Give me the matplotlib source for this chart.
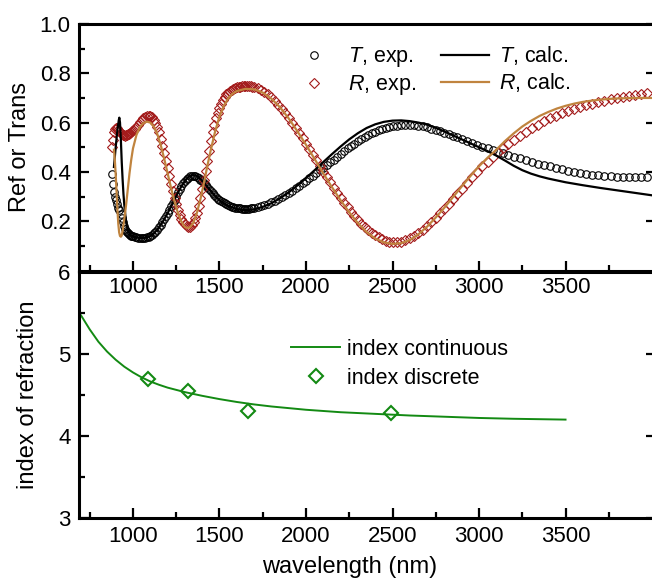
import matplotlib
matplotlib.use("Agg")
import matplotlib.pyplot as plt
from matplotlib.ticker import FixedLocator

plt.rcParams["font.family"] = ["Liberation Sans", "DejaVu Sans"]
plt.rcParams["mathtext.fontset"] = "custom"
plt.rcParams["mathtext.rm"] = "Liberation Sans"
plt.rcParams["mathtext.it"] = "Liberation Sans:italic"

# ---- measured spectra (wavelength in nm) ----
wl_exp = [880, 886, 892, 898, 904, 910, 916, 922, 928, 934, 940, 946, 952, 958, 964,
          970, 976, 982, 988, 994,
          1000, 1010, 1020, 1030, 1040, 1050, 1060, 1070, 1080, 1090,
          1100, 1110, 1120, 1130, 1140, 1150, 1160, 1170, 1180, 1190,
          1200, 1210, 1220, 1230, 1240, 1250, 1260, 1270, 1280, 1290,
          1300, 1310, 1320, 1330, 1340, 1350, 1360, 1370, 1380, 1390,
          1400, 1410, 1420, 1430, 1440, 1450, 1460, 1470, 1480, 1490,
          1500, 1510, 1520, 1530, 1540, 1550, 1560, 1570, 1580, 1590,
          1600, 1610, 1620, 1630, 1640, 1650, 1660, 1670, 1680, 1690, 1700,
          1720, 1740, 1760, 1780, 1800, 1820, 1840, 1860, 1880, 1900,
          1920, 1940, 1960, 1980, 2000, 2020, 2040, 2060, 2080, 2100,
          2120, 2140, 2160, 2180, 2200, 2220, 2240, 2260, 2280, 2300,
          2320, 2340, 2360, 2380, 2400, 2420, 2440, 2460, 2480, 2500,
          2525, 2550, 2575, 2600, 2625, 2650, 2675, 2700, 2725, 2750, 2775, 2800,
          2825, 2850, 2875, 2900,
          2930, 2960, 2990, 3020, 3050, 3080, 3110, 3140, 3170, 3200,
          3235, 3270, 3305, 3340, 3375, 3410, 3445, 3480, 3515, 3550, 3585,
          3620, 3655, 3690, 3725, 3760, 3795, 3830, 3865, 3900, 3935, 3970]

T_exp = [0.39, 0.35, 0.32, 0.30, 0.285, 0.27, 0.255, 0.245, 0.23, 0.215, 0.195, 0.18,
         0.17, 0.162, 0.156, 0.151, 0.147, 0.144, 0.141, 0.139,
         0.138, 0.136, 0.134, 0.133, 0.132, 0.132, 0.132, 0.133, 0.135, 0.137,
         0.141, 0.145, 0.151, 0.158, 0.166, 0.175, 0.185, 0.196, 0.207, 0.22,
         0.233, 0.246, 0.26, 0.274, 0.288, 0.303, 0.317, 0.33, 0.342, 0.353,
         0.363, 0.371, 0.377, 0.382, 0.385, 0.385, 0.384, 0.38, 0.375, 0.369,
         0.362, 0.354, 0.346, 0.338, 0.33, 0.322, 0.314, 0.306, 0.299, 0.292,
         0.286, 0.281, 0.276, 0.272, 0.268, 0.265, 0.262, 0.259, 0.257, 0.255,
         0.254, 0.253, 0.252, 0.251, 0.251, 0.251, 0.251, 0.251, 0.252, 0.253, 0.254,
         0.257, 0.261, 0.265, 0.27, 0.276, 0.282, 0.289, 0.297, 0.305, 0.314,
         0.323, 0.333, 0.343, 0.353, 0.364, 0.374, 0.385, 0.395, 0.406, 0.417,
         0.428, 0.439, 0.45, 0.461, 0.473, 0.484, 0.495, 0.505, 0.515, 0.525,
         0.534, 0.542, 0.55, 0.557, 0.563, 0.569, 0.574, 0.578, 0.582, 0.585,
         0.588, 0.59, 0.591, 0.591, 0.59, 0.588, 0.585, 0.581, 0.576, 0.57, 0.564, 0.558,
         0.552, 0.546, 0.54, 0.534,
         0.527, 0.519, 0.511, 0.503, 0.496, 0.489, 0.482, 0.475, 0.468, 0.462,
         0.455, 0.448, 0.441, 0.434, 0.428, 0.422, 0.416, 0.41, 0.405, 0.4, 0.396,
         0.392, 0.389, 0.386, 0.384, 0.382, 0.381, 0.38, 0.379, 0.379, 0.379, 0.38]

R_exp = [0.50, 0.53, 0.56, 0.575, 0.58, 0.578, 0.572, 0.565, 0.558, 0.553, 0.55, 0.548,
         0.547, 0.548, 0.55, 0.552, 0.555, 0.558, 0.562, 0.566,
         0.57, 0.576, 0.583, 0.592, 0.601, 0.609, 0.617, 0.623, 0.627, 0.628,
         0.627, 0.621, 0.612, 0.598, 0.581, 0.56, 0.535, 0.506, 0.475, 0.445,
         0.414, 0.383, 0.352, 0.322, 0.295, 0.27, 0.247, 0.227, 0.21, 0.197,
         0.187, 0.181, 0.178, 0.178, 0.184, 0.195, 0.212, 0.235, 0.263, 0.295,
         0.33, 0.367, 0.405, 0.445, 0.485, 0.525, 0.56, 0.59, 0.617, 0.64,
         0.66, 0.677, 0.692, 0.704, 0.714, 0.722, 0.728, 0.733, 0.737, 0.74,
         0.743, 0.745, 0.746, 0.747, 0.748, 0.748, 0.748, 0.748, 0.747, 0.746, 0.744,
         0.739, 0.732, 0.724, 0.714, 0.702, 0.688, 0.673, 0.657, 0.639, 0.619,
         0.599, 0.578, 0.557, 0.536, 0.515, 0.493, 0.47, 0.447, 0.424, 0.401,
         0.379, 0.357, 0.335, 0.314, 0.294, 0.275, 0.256, 0.238, 0.221, 0.205,
         0.19, 0.176, 0.164, 0.153, 0.143, 0.134, 0.126, 0.12, 0.116, 0.114,
         0.114, 0.117, 0.122, 0.13, 0.14, 0.152, 0.165, 0.18, 0.197, 0.215, 0.232, 0.25,
         0.27, 0.29, 0.31, 0.331,
         0.355, 0.378, 0.40, 0.422, 0.442, 0.461, 0.48, 0.498, 0.514, 0.53,
         0.547, 0.563, 0.578, 0.592, 0.605, 0.617, 0.628, 0.638, 0.647, 0.655, 0.663,
         0.67, 0.677, 0.683, 0.689, 0.694, 0.699, 0.704, 0.708, 0.712, 0.716, 0.72]

# ---- calculated spectra ----
wl_Tcalc = [890, 900, 910, 918, 921, 925, 930, 935, 940, 945, 950, 955, 960, 965, 970,
            980, 990, 1000, 1020, 1040, 1060, 1080, 1100, 1120, 1140, 1160, 1180,
            1200, 1220, 1240, 1260, 1280, 1300, 1320, 1340, 1360, 1380, 1400, 1425,
            1450, 1475, 1500, 1550, 1600, 1650, 1700, 1750, 1800, 1850, 1900, 1950,
            2000, 2050, 2100, 2150, 2200, 2250, 2300, 2350, 2400, 2450, 2500, 2550,
            2600, 2650, 2700, 2750, 2800, 2850, 2900, 2950, 3000, 3050, 3100, 3150,
            3200, 3250, 3300, 3350, 3400, 3500, 3600, 3700, 3800, 3900, 4000]
T_calc = [0.42, 0.50, 0.57, 0.61, 0.62, 0.60, 0.53, 0.44, 0.37, 0.31, 0.265, 0.23,
          0.20, 0.18, 0.165, 0.15, 0.142, 0.138, 0.134, 0.132, 0.132, 0.134, 0.14,
          0.15, 0.165, 0.185, 0.207, 0.232, 0.26, 0.288, 0.316, 0.342, 0.363, 0.379,
          0.387, 0.386, 0.378, 0.364, 0.343, 0.322, 0.302, 0.285, 0.262, 0.249,
          0.245, 0.248, 0.258, 0.273, 0.293, 0.317, 0.345, 0.375, 0.407, 0.44,
          0.472, 0.503, 0.532, 0.557, 0.578, 0.593, 0.603, 0.608, 0.609, 0.606,
          0.600, 0.592, 0.579, 0.564, 0.548, 0.532, 0.516, 0.50, 0.484, 0.466,
          0.446, 0.425, 0.407, 0.393, 0.382, 0.373, 0.358, 0.346, 0.335, 0.325,
          0.315, 0.305]

wl_Rcalc = [890, 895, 900, 905, 910, 915, 920, 925, 930, 935, 940, 950, 960, 970, 980,
            990, 1000, 1020, 1040, 1060, 1080, 1100, 1120, 1140, 1160, 1180, 1200,
            1220, 1240, 1260, 1280, 1300, 1315, 1330, 1350, 1370, 1390, 1410, 1430,
            1450, 1475, 1500, 1525, 1550, 1575, 1600, 1650, 1700, 1750, 1800, 1850,
            1900, 1950, 2000, 2050, 2100, 2150, 2200, 2250, 2300, 2350, 2400, 2450,
            2500, 2550, 2600, 2650, 2700, 2750, 2800, 2850, 2900, 2950, 3000, 3050,
            3100, 3150, 3200, 3250, 3300, 3350, 3400, 3450, 3500, 3550, 3600, 3650,
            3700, 3750, 3800, 3850, 3900, 3950, 4000]
R_calc = [0.49, 0.45, 0.39, 0.32, 0.25, 0.19, 0.155, 0.14, 0.137, 0.142, 0.16, 0.21,
          0.265, 0.33, 0.395, 0.45, 0.495, 0.55, 0.582, 0.598, 0.604, 0.60, 0.585,
          0.555, 0.51, 0.455, 0.395, 0.335, 0.28, 0.233, 0.198, 0.177, 0.172, 0.176,
          0.195, 0.235, 0.29, 0.355, 0.425, 0.49, 0.565, 0.625, 0.668, 0.698, 0.717,
          0.728, 0.737, 0.735, 0.722, 0.697, 0.662, 0.617, 0.565, 0.51, 0.452, 0.394,
          0.338, 0.285, 0.236, 0.192, 0.156, 0.13, 0.114, 0.108, 0.111, 0.123, 0.147,
          0.178, 0.215, 0.255, 0.298, 0.341, 0.383, 0.423, 0.458, 0.49, 0.525, 0.556,
          0.584, 0.607, 0.627, 0.643, 0.657, 0.668, 0.677, 0.684, 0.689, 0.693, 0.696,
          0.698, 0.699, 0.70, 0.70, 0.70]

# ---- refractive index ----
wl_n = [700, 750, 800, 850, 900, 950, 1000, 1050, 1100, 1150, 1200, 1300, 1400, 1500,
        1600, 1700, 1800, 1900, 2000, 2200, 2400, 2600, 2800, 3000, 3200, 3500]
n_cont = [5.47, 5.30, 5.15, 5.03, 4.93, 4.845, 4.775, 4.715, 4.665, 4.625, 4.59, 4.535,
          4.49, 4.45, 4.415, 4.385, 4.36, 4.34, 4.32, 4.29, 4.27, 4.25, 4.235, 4.22,
          4.21, 4.20]
wl_disc = [1085, 1316, 1666, 2491]
n_disc = [4.69, 4.55, 4.31, 4.28]

x_ticks = [1000, 1500, 2000, 2500, 3000, 3500]
x_minor = [750, 1250, 1750, 2250, 2750, 3250, 3750]

red = "#a31b1b"
brown = "#c0843f"
green = "#138a13"

W, H = 652, 580
fig = plt.figure(figsize=(W / 100, H / 100), dpi=100)
ax2 = fig.add_axes([79 / W, 1 - 518 / H, 576.5 / W, 246 / H])
ax1 = fig.add_axes([79 / W, 1 - 270.5 / H, 576.5 / W, 246.5 / H])
ax1.set_zorder(3)

ax1.plot(wl_exp, T_exp, "o", ms=5.4, mfc="none", mec="black", mew=0.8, label="$T$, exp.")
ax1.plot(wl_exp, R_exp, "D", ms=4.8, mfc="none", mec=red, mew=0.8, label="$R$, exp.")
ax1.plot(wl_Tcalc, T_calc, "-", color="black", lw=1.6, label="$T$, calc.")
ax1.plot(wl_Rcalc, R_calc, "-", color=brown, lw=1.6, label="$R$, calc.")
ax1.set_ylim(0, 1.0)
ax1.yaxis.set_major_locator(FixedLocator([0.2, 0.4, 0.6, 0.8, 1.0]))
ax1.yaxis.set_minor_locator(FixedLocator([0.1, 0.3, 0.5, 0.7, 0.9]))
ax1.set_ylabel("Ref or Trans", fontsize=17)
ax1.yaxis.set_label_coords(-0.083, 0.5)
ax1.legend(ncol=2, frameon=False, fontsize=15.5, loc="upper left",
           bbox_to_anchor=(0.351, 0.952), handlelength=2.23, handletextpad=0.47,
           columnspacing=1.16, labelspacing=0.17, borderaxespad=0)

ax2.plot(wl_n, n_cont, "-", color=green, lw=1.4, label="index continuous")
ax2.plot(wl_disc, n_disc, "D", ms=7, mfc="none", mec=green, mew=1.5,
         label="index discrete")
ax2.set_ylim(3, 6)
ax2.yaxis.set_major_locator(FixedLocator([3, 4, 5, 6]))
ax2.yaxis.set_minor_locator(FixedLocator([3.5, 4.5, 5.5]))
ax2.set_ylabel("index of refraction", fontsize=17)
ax2.yaxis.set_label_coords(-0.07, 0.5)
ax2.set_xlabel("wavelength (nm)", fontsize=17)
ax2.xaxis.set_label_coords(0.47, -0.155)
ax2.legend(frameon=False, fontsize=15.5, loc="upper left",
           bbox_to_anchor=(0.353, 0.764), handlelength=2.28, handletextpad=0.33,
           labelspacing=0.38, borderaxespad=0)

for ax in (ax1, ax2):
    ax.set_xlim(688, 4020)
    ax.xaxis.set_major_locator(FixedLocator(x_ticks))
    ax.xaxis.set_minor_locator(FixedLocator(x_minor))
    for s in ax.spines.values():
        s.set_linewidth(2.2)
    ax.tick_params(which="both", direction="in", top=False, width=1.6,
                   labelsize=16, pad=6)
    ax.tick_params(which="major", length=7, right=True)
    ax.tick_params(which="minor", length=4, right=False)

ax1.tick_params(axis="x", pad=5)

fig.savefig("out.png", dpi=100)
